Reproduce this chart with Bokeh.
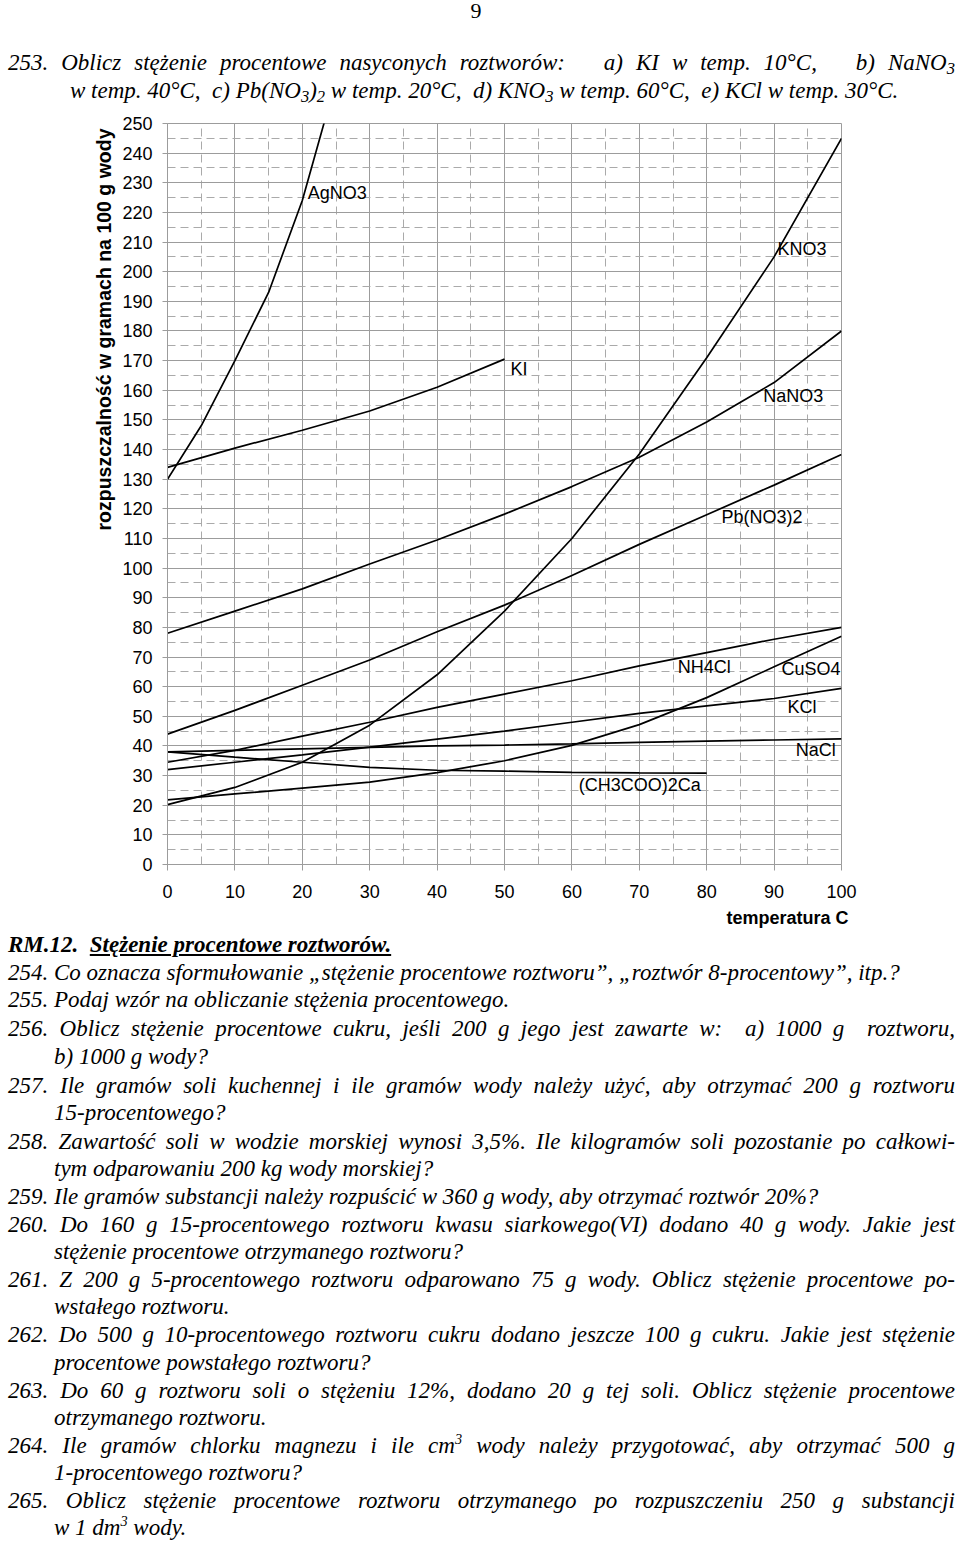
from bokeh.plotting import figure
from bokeh.models import Range1d, SingleIntervalTicker, Label, Div, Title
from bokeh.layouts import column
from bokeh.embed import file_html
from bokeh.resources import INLINE

# ---------------- chart data ----------------
TEMPS = [0, 10, 20, 30, 40, 50, 60, 70, 80, 90, 100]

AGNO3_T = [0, 5, 10, 15, 20, 30]
AGNO3 = [130, 148, 170, 193, 224, 305]

KI_T = [0, 10, 20, 30, 40, 50]
KI = [134, 140.5, 146.5, 153, 161, 170.5]

KNO3 = [20.2, 26, 34.5, 47, 64, 85.5, 110, 138.5, 171, 205, 245]
NANO3 = [78, 85.5, 93, 101.4, 109.5, 118.2, 127.5, 137.4, 149.3, 162.6, 180]
PBNO32 = [44, 52, 60.5, 69, 78.5, 87.5, 97.5, 108, 118, 128, 138.3]
NH4CL = [34.5, 38.5, 43.3, 48, 53, 57.5, 62, 67, 71.5, 76, 80]
CUSO4 = [21.8, 23.8, 25.8, 27.8, 31, 35, 40.2, 47.2, 56.3, 66.7, 77]
KCL = [32, 34.5, 37, 39.6, 42.3, 45, 48, 51, 53.5, 56, 59.4]
NACL = [38, 38.5, 39, 39.5, 40, 40.3, 40.7, 41.2, 41.6, 42, 42.4]

CA_T = [0, 10, 20, 30, 40, 50, 60, 70, 80]
CA = [38, 36.2, 34.5, 32.8, 31.8, 31.5, 31.1, 30.9, 30.8]

SERIES = [
    (AGNO3_T, AGNO3), (KI_T, KI), (TEMPS, KNO3), (TEMPS, NANO3),
    (TEMPS, PBNO32), (TEMPS, NH4CL), (TEMPS, CUSO4), (TEMPS, KCL),
    (TEMPS, NACL), (CA_T, CA),
]

LABELS = ["AgNO3", "KI", "KNO3", "NaNO3", "Pb(NO3)2", "NH4Cl", "CuSO4",
          "KCl", "NaCl", "(CH3COO)2Ca"]
LABEL_X = [20.8, 50.9, 90.5, 88.4, 82.2, 75.7, 91.1, 92.0, 93.2, 61.0]
LABEL_Y = [226.6, 167.3, 207.8, 158.2, 117.1, 66.5, 66.1, 53.0, 38.5, 26.7]

Y_TITLE = "rozpuszczalność w gramach na 100 g wody"
X_TITLE = "temperatura C"

# ---------------- chart ----------------
GRID = "#9c9c9c"
p = figure(frame_width=674, frame_height=741,
           x_range=Range1d(0, 100), y_range=Range1d(0, 250),
           output_backend="svg", toolbar_location=None,
           min_border_left=167, min_border_right=117,
           min_border_top=13, min_border_bottom=66)
p.background_fill_color = "white"
p.border_fill_color = "white"
p.outline_line_color = GRID

xt = SingleIntervalTicker(interval=10, num_minor_ticks=2)
yt = SingleIntervalTicker(interval=10, num_minor_ticks=2)
p.xaxis.ticker = xt
p.xgrid.ticker = xt
p.yaxis.ticker = yt
p.ygrid.ticker = yt

for g in (p.xgrid[0], p.ygrid[0]):
    g.grid_line_color = GRID
    g.grid_line_width = 1
    g.minor_grid_line_color = "#aaaaaa"
    g.minor_grid_line_width = 1
    g.minor_grid_line_dash = "8 5"

p.axis.axis_line_color = GRID
p.axis.major_tick_line_color = GRID
p.axis.major_tick_in = 0
p.axis.minor_tick_line_color = None
p.axis.major_label_text_font = "Liberation Sans"
p.axis.major_label_text_font_size = "18px"
p.axis.major_label_text_color = "black"
p.xaxis.major_tick_out = 6
p.xaxis.major_label_standoff = 14
p.yaxis.major_tick_out = 5
p.yaxis.major_label_standoff = 10

for xs, ys in SERIES:
    p.line(xs, ys, line_color="black", line_width=1.7)

for t, x, y in zip(LABELS, LABEL_X, LABEL_Y):
    p.add_layout(Label(x=x, y=y, text=t, text_font="Liberation Sans",
                       text_font_size="18px", text_color="black",
                       text_align="left", text_baseline="middle"))

p.add_layout(Title(text=Y_TITLE, align="right", offset=5,
                   text_font="Liberation Sans", text_font_style="bold",
                   text_font_size="19.5px", text_color="black"), "left")
p.add_layout(Title(text=X_TITLE, align="right", offset=-7,
                   text_font="Liberation Sans", text_font_style="bold",
                   text_font_size="18px", text_color="black"), "below")

# ---------------- page text ----------------
STYLE = ("<style>sub{font-size:0.72em;line-height:0;vertical-align:-0.22em}"
         "sup{font-size:0.62em;line-height:0;vertical-align:0.65em}</style>")


def block(lines, page_top, height, extra=""):
    parts = [STYLE,
             f'<div style="position:relative;width:958px;height:{height}px;'
             "font-family:'Liberation Serif';font-style:italic;font-size:23px;"
             'line-height:28px;color:#000;">', extra]
    for html, left, cy, just in lines:
        top = cy - 15 - page_top
        if just:
            w = 955 - left
            st = (f"position:absolute;left:{left}px;top:{top}px;width:{w}px;"
                  "text-align:justify;text-align-last:justify;")
        else:
            st = f"position:absolute;left:{left}px;top:{top}px;white-space:pre;"
        parts.append(f'<div style="{st}">{html}</div>')
    parts.append("</div>")
    return "".join(parts)


TOP_LINES = [
    ("253. Oblicz stężenie procentowe nasyconych roztworów:&nbsp;&nbsp; a) KI w temp. 10°C,&nbsp;&nbsp; b) NaNO<sub>3</sub>", 8, 64, True),
    ("w temp. 40°C,  c) Pb(NO<sub>3</sub>)<sub>2</sub> w temp. 20°C,  d) KNO<sub>3</sub> w temp. 60°C,  e) KCl w temp. 30°C.", 70, 92, False),
]
PAGE_NO = ('<div style="position:absolute;left:466px;top:0px;width:20px;'
           'text-align:center;font-style:normal;font-size:22px;line-height:22px;">9</div>')

BODY_LINES = [
    ("<b>RM.12.&nbsp; <u>Stężenie procentowe roztworów.</u></b>", 8, 944, False),
    ("254. Co oznacza sformułowanie „stężenie procentowe roztworu”, „roztwór 8-procentowy”, itp.?", 8, 972, False),
    ("255. Podaj wzór na obliczanie stężenia procentowego.", 8, 999, False),
    ("256. Oblicz stężenie procentowe cukru, jeśli 200 g jego jest zawarte w:&nbsp; a) 1000 g&nbsp; roztworu,", 8, 1028, True),
    ("b) 1000 g wody?", 54, 1056, False),
    ("257. Ile gramów soli kuchennej i ile gramów wody należy użyć, aby otrzymać 200 g roztworu", 8, 1085, True),
    ("15-procentowego?", 54, 1112, False),
    ("258. Zawartość soli w wodzie morskiej wynosi 3,5%. Ile kilogramów soli pozostanie po całkowi-", 8, 1141, True),
    ("tym odparowaniu 200 kg wody morskiej?", 54, 1168, False),
    ("259. Ile gramów substancji należy rozpuścić w 360 g wody, aby otrzymać roztwór 20%?", 8, 1196, False),
    ("260. Do 160 g 15-procentowego roztworu kwasu siarkowego(VI) dodano 40 g wody. Jakie jest", 8, 1224, True),
    ("stężenie procentowe otrzymanego roztworu?", 54, 1251, False),
    ("261. Z 200 g 5-procentowego roztworu odparowano 75 g wody. Oblicz stężenie procentowe po-", 8, 1279, True),
    ("wstałego roztworu.", 54, 1306, False),
    ("262. Do 500 g 10-procentowego roztworu cukru dodano jeszcze 100 g cukru. Jakie jest stężenie", 8, 1334, True),
    ("procentowe powstałego roztworu?", 54, 1362, False),
    ("263. Do 60 g roztworu soli o stężeniu 12%, dodano 20 g tej soli. Oblicz stężenie procentowe", 8, 1390, True),
    ("otrzymanego roztworu.", 54, 1417, False),
    ("264. Ile gramów chlorku magnezu i ile cm<sup>3</sup> wody należy przygotować, aby otrzymać 500 g", 8, 1445, True),
    ("1-procentowego roztworu?", 54, 1472, False),
    ("265. Oblicz stężenie procentowe roztworu otrzymanego po rozpuszczeniu 250 g substancji", 8, 1500, True),
    ("w 1 dm<sup>3</sup> wody.", 54, 1527, False),
]

top_div = Div(text=block(TOP_LINES, 0, 110, PAGE_NO), width=958, height=110,
              margin=0, styles={"overflow": "visible"})
bottom_div = Div(text=block(BODY_LINES, 930, 612), width=958, height=612,
                 margin=0, styles={"overflow": "visible"})

layout = column(top_div, p, bottom_div, spacing=0)

open("out.html", "w").write(file_html(layout, INLINE))
